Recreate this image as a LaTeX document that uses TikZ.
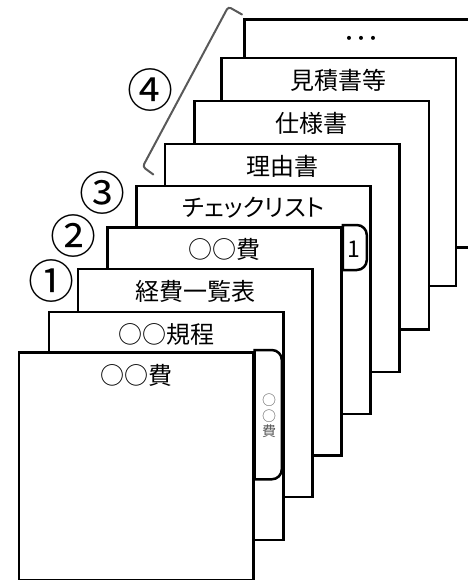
\documentclass[tikz,border=0pt]{standalone}
\usepackage{fontspec}
\setmainfont{Noto Sans CJK JP}
\newfontfamily\jpprop[RawFeature=+palt]{Noto Sans CJK JP}
\begin{document}
\begin{tikzpicture}[x=1pt,y=1pt]
\tikzset{
  page/.style={draw=black, line width=2.5pt, fill=white, rectangle,
    minimum width=234.3pt, minimum height=228pt, anchor=north west, inner sep=0pt},
  title/.style={font=\fontsize{24}{28}\selectfont, anchor=center, inner sep=0pt},
  num/.style={font=\fontsize{46}{52}\selectfont, anchor=center, inner sep=0pt},
  tabbox/.style={draw=black, line width=2.5pt, fill=white},
  tabtext/.style={font=\fontsize{23}{26}\selectfont, anchor=center, inner sep=0pt},
  sidetext/.style={font=\fontsize{14}{15.5}\selectfont, text=black!65, align=center, anchor=center, inner sep=0pt},
  bracket/.style={draw=black!65, line width=2pt, rounded corners=3pt, line cap=round}
}
\useasboundingbox (0,0) rectangle (467,-580);
% pages from back to front
\node[page] (p9) at (243.3,-18.3) {};
\node[title] (t9) at ([yshift=-23.5pt]p9.north) {･･･};
\node[page] (p8) at (220.3,-56.7) {};
\node[title] (t8) at ([yshift=-23.5pt]p8.north) {見積書等};
\node[page] (p7) at (193.3,-100) {};
\node[title] (t7) at ([yshift=-23.5pt]p7.north) {仕様書};
\node[page] (p6) at (163.7,-142.7) {};
\node[title] (t6) at ([yshift=-23.5pt]p6.north) {理由書};
\node[page] (p5) at (135,-184.5) {};
\node[title] (t5) at ([yshift=-23.5pt]p5.north) {\jpprop チェックリスト};
\node[page] (p4) at (106,-226.3) {};
\node[title] (t4) at ([yshift=-23.5pt]p4.north) {○○費};
\draw[tabbox] ([yshift=1.3pt]p4.north east) -- ++(14,0)
  arc[start angle=90, end angle=0, radius=10] -- ++(0,-25)
  arc[start angle=0, end angle=-90, radius=10] -- ++(-14,0) -- cycle;
\node[tabtext] (n1) at ([xshift=11pt,yshift=-22.5pt]p4.north east) {1};
\node[page] (p3) at (76.7,-267.5) {};
\node[title] (t3) at ([yshift=-23.5pt]p3.north) {経費一覧表};
\node[page] (p2) at (47.7,-310.7) {};
\node[title] (t2) at ([yshift=-23.5pt]p2.north) {○○規程};
\node[page] (p1) at (17.7,-351.3) {};
\node[title] (t1) at ([yshift=-24pt]p1.north) {○○費};
\draw[tabbox] ([yshift=1.3pt]p1.north east) -- ++(17.3,0)
  arc[start angle=90, end angle=0, radius=10] -- ++(0,-109.3)
  arc[start angle=0, end angle=-90, radius=10] -- ++(-17.3,0) -- cycle;
\node[sidetext] (s1) at ([xshift=14.5pt,yshift=-64.5pt]p1.north east) {○\\○\\費};
% circled numbers
\node[num] (c1) at (51,-281) {①};
\node[num] (c2) at (73,-236.5) {②};
\node[num] (c3) at (102.7,-193) {③};
\node[num] (c4) at (150.3,-90) {④};
% bracket for 4
\coordinate (b1) at (242,-14.5);
\coordinate (b2) at (228.3,-6.7);
\coordinate (b3) at (142.7,-166.7);
\coordinate (b4) at (153.3,-174.5);
\draw[bracket] (b1) -- (b2) -- (b3) -- (b4);
\end{tikzpicture}
\end{document}
